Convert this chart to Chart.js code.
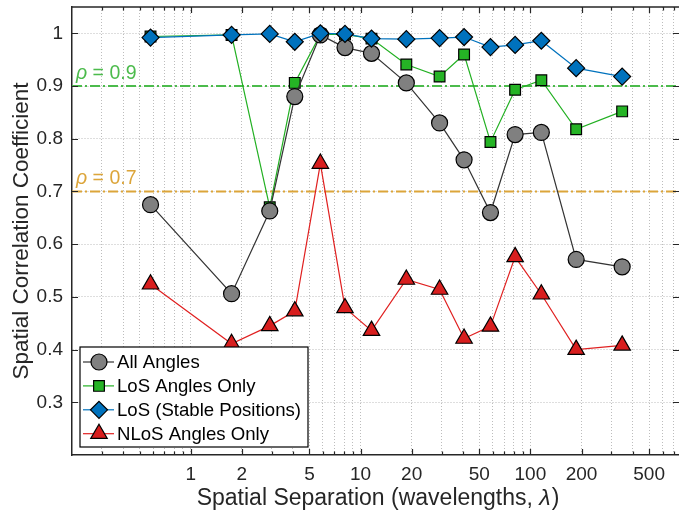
<!DOCTYPE html>
<html>
<head>
<meta charset="utf-8">
<script src="https://cdn.jsdelivr.net/npm/chart.js@4.4.0/dist/chart.umd.min.js"></script>
<style>
  html, body { margin: 0; padding: 0; background: #fff; }
  #wrap { width: 679px; height: 523px; }
</style>
</head>
<body>
<div id="wrap"><canvas id="corr" width="679" height="523"></canvas></div>
<script>
// --- values ---
const sepLambda  = [0.58, 1.74, 2.92, 4.1, 5.8, 8.1, 11.6, 18.6, 29.2, 40.7, 58.2, 81.3, 116, 186, 347];
const allAngles  = [0.675, 0.506, 0.663, 0.880, 0.997, 0.973, 0.962, 0.906, 0.830, 0.760, 0.660, 0.808, 0.812, 0.571, 0.557];
const losAngles  = [0.994, 0.997, 0.670, 0.906, 0.998, 0.998, 0.990, 0.941, 0.918, 0.960, 0.794, 0.893, 0.911, 0.818, 0.852];
const losStable  = [0.992, 0.997, 0.999, 0.984, 1.000, 0.999, 0.990, 0.989, 0.991, 0.993, 0.974, 0.978, 0.986, 0.934, 0.918];
const nlosAngles = [0.524, 0.411, 0.445, 0.473, 0.753, 0.479, 0.436, 0.533, 0.514, 0.421, 0.444, 0.576, 0.505, 0.400, 0.408];

const xLabelTicks = [1, 2, 5, 10, 20, 50, 100, 200, 500];
const yLabelTicks = [0.3, 0.4, 0.5, 0.6, 0.7, 0.8, 0.9, 1];
const rhoLevels   = [0.9, 0.7];
const rhoColors   = ['#4cbb4c', '#dca53a'];

const X_MIN = 0.2, X_MAX = 750;
const FONT = '"Liberation Sans", Arial, Helvetica, sans-serif';
const INK = '#262626';

// log minor tick positions 0.3 .. 700
const xGridTicks = [];
[0.1, 1, 10, 100].forEach(d => {
    for (let m = 1; m <= 9; m++) {
        const v = +(m * d).toPrecision(3);
        if (v > X_MIN && v < X_MAX) xGridTicks.push(v);
    }
});

const pts = arr => sepLambda.map((x, i) => ({ x: x, y: arr[i] }));

const series = [
    { label: 'All Angles', data: allAngles, line: '#333333', fill: '#808080', style: 'circle', r: 8, order: 3 },
    { label: 'LoS Angles Only', data: losAngles, line: '#22b022', fill: '#25b425', style: 'rect', r: 7.6, order: 4 },
    { label: 'LoS (Stable Positions)', data: losStable, line: '#0072bd', fill: '#0072bd', style: 'rectRot', r: 8.5, order: 2 },
    { label: 'NLoS Angles Only', data: nlosAngles, line: '#e02020', fill: '#d81e1e', style: 'triangle', r: 9.5, order: 1 }
];

// simple marker painter for the legend
function paintMarker(ctx, style, x, y, r) {
    ctx.beginPath();
    if (style === 'circle') {
        ctx.arc(x, y, r, 0, Math.PI * 2);
    } else if (style === 'rect') {
        const s = r * Math.SQRT1_2;
        ctx.rect(x - s, y - s, 2 * s, 2 * s);
    } else if (style === 'rectRot') {
        ctx.moveTo(x, y - r); ctx.lineTo(x + r, y); ctx.lineTo(x, y + r); ctx.lineTo(x - r, y);
        ctx.closePath();
    } else {
        const h = r * Math.sqrt(3) / 2;
        ctx.moveTo(x, y - r); ctx.lineTo(x + h, y + r / 2); ctx.lineTo(x - h, y + r / 2);
        ctx.closePath();
    }
    ctx.fill();
    ctx.stroke();
}

// dash-dot reference lines + rho labels
const rhoLines = {
    id: 'rhoLines',
    beforeDatasetsDraw(chart) {
        const { ctx, chartArea: a, scales: { y } } = chart;
        ctx.save();
        rhoLevels.forEach((lv, i) => {
            const py = y.getPixelForValue(lv);
            ctx.strokeStyle = rhoColors[i];
            ctx.lineWidth = 2;
            ctx.setLineDash([10, 3, 2, 3]);
            ctx.beginPath(); ctx.moveTo(a.left, py); ctx.lineTo(a.right, py); ctx.stroke();
            ctx.setLineDash([]);
            ctx.fillStyle = rhoColors[i];
            ctx.textBaseline = 'alphabetic';
            ctx.font = 'italic 19.5px ' + FONT;
            ctx.fillText('\u03c1', a.left + 4, py - 7);
            const w = ctx.measureText('\u03c1').width;
            ctx.font = '19.5px ' + FONT;
            ctx.fillText(' = ' + lv.toFixed(1), a.left + 4 + w, py - 7);
        });
        ctx.restore();
    }
};

// inward ticks on all four sides, top frame line, x title and legend
const matlabFrame = {
    id: 'matlabFrame',
    afterDraw(chart) {
        const { ctx, chartArea: a, scales: { x, y } } = chart;
        ctx.save();
        ctx.strokeStyle = INK;
        ctx.lineWidth = 1.5;
        ctx.beginPath(); ctx.moveTo(a.left, a.top); ctx.lineTo(a.right, a.top); ctx.stroke();

        ctx.lineWidth = 1.2;
        x.ticks.forEach(t => {
            const px = Math.round(x.getPixelForValue(t.value)) + 0.5;
            const len = xLabelTicks.includes(t.value) ? 6 : 3.5;
            ctx.beginPath();
            ctx.moveTo(px, a.bottom); ctx.lineTo(px, a.bottom - len);
            ctx.moveTo(px, a.top); ctx.lineTo(px, a.top + len);
            ctx.stroke();
        });
        y.ticks.forEach(t => {
            const py = Math.round(y.getPixelForValue(t.value)) + 0.5;
            ctx.beginPath();
            ctx.moveTo(a.left, py); ctx.lineTo(a.left + 6, py);
            ctx.moveTo(a.right, py); ctx.lineTo(a.right - 6, py);
            ctx.stroke();
        });

        // x title with italic lambda
        const t1 = 'Spatial Separation (wavelengths, ';
        ctx.fillStyle = INK;
        ctx.textBaseline = 'alphabetic';
        ctx.font = '23px ' + FONT;
        const w1 = ctx.measureText(t1).width;
        const w3 = ctx.measureText(')').width;
        ctx.font = 'italic 23px ' + FONT;
        const w2 = ctx.measureText('\u03bb').width;
        let sx = (a.left + a.right) / 2 + 2 - (w1 + w2 + w3) / 2;
        const ty = a.bottom + 50;
        ctx.font = '23px ' + FONT;
        ctx.fillText(t1, sx, ty);
        ctx.font = 'italic 23px ' + FONT;
        ctx.fillText('\u03bb', sx + w1, ty);
        ctx.font = '23px ' + FONT;
        ctx.fillText(')', sx + w1 + w2 + 1, ty);

        // legend box, lower left
        const bx = a.left + 8, bw = 228, bh = 100, by = a.bottom - 8 - bh;
        ctx.fillStyle = '#fff';
        ctx.fillRect(bx, by, bw, bh);
        ctx.strokeStyle = '#000';
        ctx.lineWidth = 1.2;
        ctx.strokeRect(bx, by, bw, bh);
        series.forEach((s, i) => {
            const ry = by + 15 + i * 23.9;
            ctx.strokeStyle = s.line;
            ctx.lineWidth = 1.2;
            ctx.beginPath(); ctx.moveTo(bx + 3, ry); ctx.lineTo(bx + 34, ry); ctx.stroke();
            ctx.fillStyle = s.fill;
            ctx.strokeStyle = '#000';
            paintMarker(ctx, s.style, bx + 19, ry, s.r);
            ctx.fillStyle = '#000';
            ctx.font = '18.6px ' + FONT;
            ctx.textBaseline = 'middle';
            ctx.fillText(s.label, bx + 37, ry + 1);
        });
        ctx.restore();
    }
};

new Chart(document.getElementById('corr'), {
    type: 'line',
    data: {
        datasets: series.map(s => ({
            label: s.label,
            data: pts(s.data),
            order: s.order,
            borderColor: s.line,
            borderWidth: 1.2,
            fill: false,
            tension: 0,
            pointStyle: s.style,
            pointRadius: s.r,
            pointHoverRadius: s.r,
            pointBackgroundColor: s.fill,
            pointBorderColor: '#000',
            pointBorderWidth: 1.2
        }))
    },
    options: {
        responsive: false,
        animation: false,
        layout: { autoPadding: false, padding: { top: 7, right: 0, left: 0, bottom: 0 } },
        plugins: { legend: { display: false }, tooltip: { enabled: false } },
        scales: {
            x: {
                type: 'logarithmic',
                min: X_MIN,
                max: X_MAX,
                afterBuildTicks: sc => { sc.ticks = xGridTicks.map(v => ({ value: v })); },
                afterFit: sc => { sc.height = 68; sc.paddingLeft = 0; sc.paddingRight = 0; },
                grid: { color: '#bdbdbd', lineWidth: 1, drawTicks: false },
                border: { display: true, color: INK, width: 1.5, dash: [1, 2] },
                ticks: {
                    autoSkip: false,
                    maxRotation: 0,
                    padding: 8,
                    color: INK,
                    font: { family: FONT, size: 19 },
                    callback: v => xLabelTicks.includes(v) ? String(v) : ''
                }
            },
            y: {
                min: 0.2,
                max: 1.05,
                afterBuildTicks: sc => { sc.ticks = yLabelTicks.map(v => ({ value: v })); },
                afterFit: sc => { sc.width = 72; sc.paddingTop = 0; sc.paddingBottom = 0; },
                grid: { color: '#bdbdbd', lineWidth: 1, drawTicks: false },
                border: { display: true, color: INK, width: 1.5, dash: [1, 2] },
                ticks: {
                    padding: 9,
                    color: INK,
                    font: { family: FONT, size: 19 },
                    callback: v => v === 1 ? '1' : v.toFixed(1)
                },
                title: {
                    display: true,
                    text: 'Spatial Correlation Coefficient',
                    color: INK,
                    font: { family: FONT, size: 22.5 },
                    padding: { top: 8, bottom: 0 }
                }
            }
        }
    },
    plugins: [rhoLines, matlabFrame]
});
</script>
</body>
</html>
